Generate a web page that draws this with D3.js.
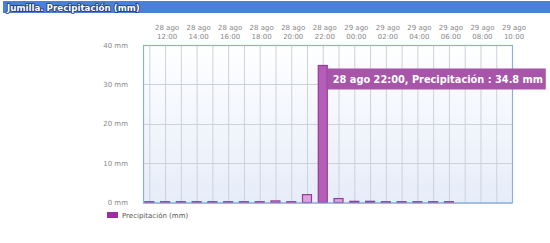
<!DOCTYPE html>
<html>
<head>
<meta charset="utf-8">
<script src="https://cdn.jsdelivr.net/npm/d3@7"></script>
<style>
  body { margin: 0; background: #fff; }
  text { font-family: "DejaVu Sans", Verdana, sans-serif; }
</style>
</head>
<body>
<div class="chart"></div>
<script>
// hours from 28 ago 11:00, one bar per hour
const hours = d3.range(0, 20);
const rain = [0.2, 0.2, 0.2, 0.2, 0.2, 0.2, 0.2, 0.2, 0.4, 0.2,
              2.0, 34.8, 1.0, 0.3, 0.3, 0.2, 0.2, 0.2, 0.2, 0.2];
const tickHours = [1, 3, 5, 7, 9, 11, 13, 15, 17, 19, 21, 23];
const tickLabels = [['28 ago', '12:00'], ['28 ago', '14:00'], ['28 ago', '16:00'], ['28 ago', '18:00'],
                    ['28 ago', '20:00'], ['28 ago', '22:00'], ['29 ago', '00:00'], ['29 ago', '02:00'],
                    ['29 ago', '04:00'], ['29 ago', '06:00'], ['29 ago', '08:00'], ['29 ago', '10:00']];
const yTicks = [0, 10, 20, 30, 40];
const hot = 11; // highlighted bar

const width = 550, height = 243;
const svg = d3.select('.chart').append('svg')
    .attr('width', width)
    .attr('height', height);

// title band
svg.append('rect').attr('x', 3).attr('y', 1).attr('width', width - 3).attr('height', 12)
    .attr('fill', '#4c7fd6');
svg.append('text').attr('x', 7).attr('y', 10.5)
    .attr('font-size', 8.7).attr('font-weight', 'bold')
    .attr('fill', '#fff').attr('stroke', '#1a3a78').attr('stroke-width', 1.6)
    .attr('paint-order', 'stroke')
    .text('Jumilla. Precipitación (mm)');

const x = d3.scaleLinear().domain([-0.4, 23]).range([143, 512]);
const y = d3.scaleLinear().domain([0, 40]).range([202.5, 45]);

// plot background gradient
const grad = svg.append('defs').append('linearGradient')
    .attr('id', 'bg').attr('x1', 0).attr('y1', 0).attr('x2', 0).attr('y2', 1);
grad.append('stop').attr('offset', '0%').attr('stop-color', '#ffffff');
grad.append('stop').attr('offset', '100%').attr('stop-color', '#e6edf9');

svg.append('rect')
    .attr('x', x(-0.4)).attr('y', y(40))
    .attr('width', x(23) - x(-0.4)).attr('height', y(0) - y(40))
    .attr('fill', 'url(#bg)');

// grid
svg.append('g').selectAll('line').data(d3.range(0, 23))
    .enter().append('line')
    .attr('x1', d => x(d) + 0.5).attr('x2', d => x(d) + 0.5)
    .attr('y1', y(40)).attr('y2', y(0))
    .attr('stroke', '#cdd1da').attr('stroke-width', 1);
svg.append('g').selectAll('line').data(yTicks.slice(1, 4))
    .enter().append('line')
    .attr('x1', x(-0.4)).attr('x2', x(23))
    .attr('y1', d => Math.round(y(d)) + 0.5).attr('y2', d => Math.round(y(d)) + 0.5)
    .attr('stroke', '#cdd1da');

// border
svg.append('rect')
    .attr('x', x(-0.4) + 0.5).attr('y', y(40) + 0.5)
    .attr('width', x(23) - x(-0.4)).attr('height', y(0) - y(40))
    .attr('fill', 'none').attr('stroke', '#8cb0dc').attr('stroke-width', 1.2);

// y axis labels
svg.append('g').selectAll('text').data(yTicks)
    .enter().append('text')
    .attr('x', 128).attr('y', d => y(d) + 2.5)
    .attr('text-anchor', 'end').attr('font-size', 7).attr('fill', '#888')
    .text(d => d + ' mm');

// top x labels
const tl = svg.append('g').selectAll('text').data(tickHours)
    .enter().append('text')
    .attr('text-anchor', 'middle').attr('font-size', 7).attr('fill', '#888');
tl.append('tspan').attr('x', d => x(d) + 2).attr('y', 30).text((d, i) => tickLabels[i][0]);
tl.append('tspan').attr('x', d => x(d) + 2).attr('y', 38.5).text((d, i) => tickLabels[i][1]);

// bars
const bw = 9;
svg.append('g').selectAll('rect').data(hours)
    .enter().append('rect')
    .attr('x', d => x(d) - bw / 2)
    .attr('y', d => y(rain[d]))
    .attr('width', bw)
    .attr('height', d => y(0) - y(rain[d]))
    .attr('fill', d => d === hot ? '#b35fb8' : '#d9a6dc')
    .attr('stroke', '#99399c').attr('stroke-width', 1.2);

// baseline
svg.append('line').attr('x1', x(-0.4)).attr('x2', x(23))
    .attr('y1', y(0) + 0.5).attr('y2', y(0) + 0.5)
    .attr('stroke', '#8cb0dc').attr('stroke-width', 1.2);

// tooltip
const tip = svg.append('g').attr('transform', `translate(${x(hot) + 5},${y(rain[hot]) + 3})`);
tip.append('rect').attr('width', 218).attr('height', 21).attr('fill', '#a655a9');
tip.append('text').attr('x', 5).attr('y', 14.5)
    .attr('font-size', 9.8).attr('font-weight', 'bold').attr('fill', '#fff')
    .text('28 ago 22:00, Precipitación : ' + rain[hot] + ' mm');

// legend
svg.append('rect').attr('x', 107).attr('y', 212).attr('width', 11).attr('height', 6)
    .attr('fill', '#9c2f9f');
svg.append('text').attr('x', 122).attr('y', 218)
    .attr('font-size', 7).attr('fill', '#555')
    .text('Precipitación (mm)');
</script>
</body>
</html>
